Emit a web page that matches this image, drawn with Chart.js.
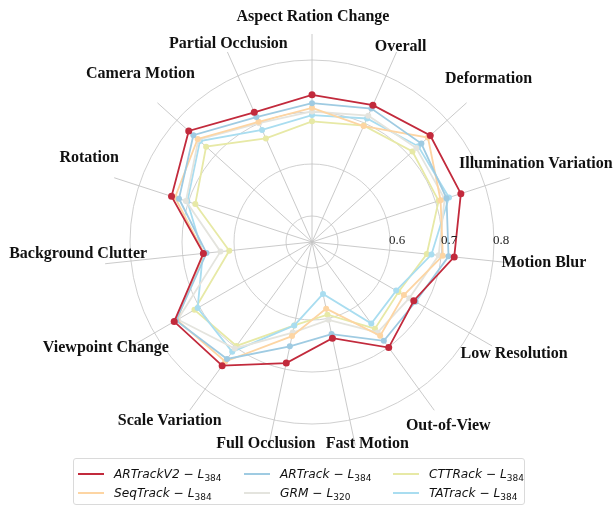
<!DOCTYPE html>
<html>
<head>
<meta charset="utf-8">
<script src="https://cdn.jsdelivr.net/npm/chart.js@4.4.1/dist/chart.umd.min.js"></script>
<style>
  body { margin: 0; background: #fff; }
  #wrap { position: relative; width: 613px; height: 506px; }
  #legend {
    position: absolute; left: 73px; top: 458px; width: 450px; height: 45px;
    border: 1px solid #dadada; border-radius: 3px; background: #fff;
    font-family: "DejaVu Sans", sans-serif; font-style: italic; font-size: 12.2px; color: #111;
  }
  .item { position: absolute; height: 18px; line-height: 18px; white-space: nowrap; }
  .item span.swatch { position: absolute; left: 0; top: 8px; width: 26px; height: 2px; }
  .item span.txt { position: absolute; left: 36px; top: 0; }
  .item sub { font-style: normal; font-size: 9px; vertical-align: -3px; line-height: 0; }
</style>
</head>
<body>
<div id="wrap">
  <canvas id="radar"></canvas>
  <div id="legend"></div>
</div>
<script>
const categories = [
  'Aspect Ration Change', 'Overall', 'Deformation', 'Illumination Variation', 'Motion Blur',
  'Low Resolution', 'Out-of-View', 'Fast Motion', 'Full Occlusion', 'Scale Variation',
  'Viewpoint Change', 'Background Clutter', 'Rotation', 'Camera Motion', 'Partial Occlusion'
];

const artrackV2 = [0.733, 0.738, 0.756, 0.751, 0.725, 0.676, 0.701, 0.639, 0.688, 0.744, 0.756, 0.660, 0.734, 0.769, 0.723];
const artrack   = [0.717, 0.731, 0.733, 0.722, 0.714, 0.680, 0.685, 0.631, 0.655, 0.728, 0.752, 0.654, 0.719, 0.757, 0.713];
const seqtrack  = [0.708, 0.694, 0.750, 0.710, 0.703, 0.654, 0.673, 0.581, 0.635, 0.734, 0.750, 0.659, 0.727, 0.746, 0.703];
const grm       = [0.701, 0.716, 0.720, 0.718, 0.695, 0.666, 0.665, 0.603, 0.628, 0.703, 0.748, 0.627, 0.705, 0.744, 0.700];
const tatrack   = [0.694, 0.710, 0.725, 0.727, 0.681, 0.637, 0.644, 0.552, 0.614, 0.711, 0.704, 0.661, 0.702, 0.740, 0.686];
const cttrack   = [0.682, 0.695, 0.710, 0.706, 0.672, 0.642, 0.656, 0.593, 0.614, 0.697, 0.711, 0.610, 0.686, 0.724, 0.668];

const gridValues = [0.5, 0.6, 0.7, 0.8];
const tickLabels = ['0.6', '0.7', '0.8'];

// label nudges (px) from the outer end of each spoke, layout only
const labelNudge = [
  [1, -17], [4, -5], [22, -24], [26, -14], [25, -1],
  [22, 8], [14, 16], [12, -2], [-3, -2], [-20, 11],
  [-26, 2], [-27, -10], [-25, -20], [-17, -29], [1, -8]
];

const series = [
  { name: 'ARTrackV2', sub: '384', data: artrackV2, color: '#c22a3c', legendRow: 0, legendCol: 0 },
  { name: 'ARTrack',   sub: '384', data: artrack,   color: '#9fcbe2', legendRow: 0, legendCol: 1 },
  { name: 'SeqTrack',  sub: '384', data: seqtrack,  color: '#fdd5a3', legendRow: 1, legendCol: 0 },
  { name: 'GRM',       sub: '320', data: grm,       color: '#e4e4de', legendRow: 1, legendCol: 1 },
  { name: 'TATrack',   sub: '384', data: tatrack,   color: '#a9ddf0', legendRow: 1, legendCol: 2 },
  { name: 'CTTRack',   sub: '384', data: cttrack,   color: '#e7e9a6', legendRow: 0, legendCol: 2 },
];

const labelPlugin = {
  id: 'labels',
  afterDraw(chart) {
    const r = chart.scales.r;
    const ctx = chart.ctx;
    const outer = r.getDistanceFromCenterForValue(r.max);
    ctx.save();
    ctx.fillStyle = '#111';
    ctx.textAlign = 'center';
    ctx.textBaseline = 'middle';
    ctx.font = 'bold 16px "Liberation Serif", serif';
    categories.forEach((c, i) => {
      const p = r.getPointPosition(i, outer);
      ctx.fillText(c, p.x + labelNudge[i][0], p.y + labelNudge[i][1]);
    });
    ctx.font = '13px "Liberation Serif", serif';
    ctx.textAlign = 'left';
    ctx.fillStyle = '#222';
    tickLabels.forEach(t => {
      const d = r.getDistanceFromCenterForValue(parseFloat(t));
      ctx.fillText(t, r.xCenter + d - 1, r.yCenter - 1);
    });
    ctx.restore();
  }
};

new Chart(document.getElementById('radar'), {
  type: 'radar',
  data: {
    labels: categories,
    datasets: series.map((s, i) => ({
      label: s.name,
      data: s.data,
      borderColor: s.color,
      backgroundColor: s.color,
      pointBackgroundColor: s.color,
      pointBorderColor: s.color,
      borderWidth: 1.8,
      pointRadius: i === 0 ? 3.5 : 3,
      pointBorderWidth: 0,
      fill: false,
      tension: 0
    }))
  },
  options: {
    responsive: true,
    maintainAspectRatio: false,
    animation: false,
    layout: { padding: { left: 104, top: 34, right: 93, bottom: 56 } },
    plugins: { legend: { display: false }, tooltip: { enabled: false } },
    scales: {
      r: {
        min: 0.45,
        max: 0.85,
        afterBuildTicks: (scale) => {
          scale.ticks = [0.45, ...gridValues].map(v => ({ value: v }));
        },
        ticks: { display: false },
        pointLabels: { display: false },
        grid: { circular: true, color: '#cbcbcb', lineWidth: 0.9 },
        angleLines: { color: '#c4c4c4', lineWidth: 0.9 }
      }
    }
  },
  plugins: [labelPlugin]
});

const legend = document.getElementById('legend');
const colX = [4, 170, 319];
const rowY = [6, 25];
series.forEach(s => {
  const d = document.createElement('div');
  d.className = 'item';
  d.style.left = colX[s.legendCol] + 'px';
  d.style.top = rowY[s.legendRow] + 'px';
  d.innerHTML = '<span class="swatch" style="background:' + s.color + '"></span>' +
    '<span class="txt">' + s.name + ' − L<sub>' + s.sub + '</sub></span>';
  legend.appendChild(d);
});
</script>
</body>
</html>
